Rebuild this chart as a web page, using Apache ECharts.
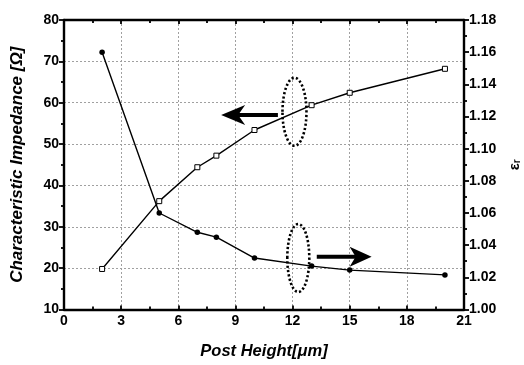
<!DOCTYPE html>
<html><head><meta charset="utf-8">
<script src="https://cdn.jsdelivr.net/npm/echarts@6/dist/echarts.min.js"></script>
<style>html,body{margin:0;padding:0;background:#fff}#c{width:524px;height:365px}</style>
</head><body><div id="c"></div>
<script>
// Data
const postHeight = [2, 5, 7, 8, 10, 13, 15, 20];
const impedance = [19.8, 36.2, 44.4, 47.2, 53.4, 59.4, 62.4, 68.2];
const epsEff = [1.160, 1.060, 1.048, 1.045, 1.032, 1.027, 1.0245, 1.0215];
const xRange = [0, 21, 3];
const leftRange = [10, 80, 10];
const rightRange = [1.00, 1.18, 0.02];

const FONT = 'Liberation Sans';
const labelStyle = { color: '#000', fontFamily: FONT, fontWeight: 'bold', fontSize: 14 };
const nameStyleX = { color: '#000', fontFamily: FONT, fontWeight: 'bold', fontStyle: 'italic', fontSize: 16.5 };
const nameStyleY = { color: '#000', fontFamily: FONT, fontWeight: 'bold', fontStyle: 'italic', fontSize: 17 };
const axisLine = { show: true, onZero: false, lineStyle: { color: '#000', width: 2.4 } };
const gridLine = { show: true, lineStyle: { color: '#a0a0a0', width: 1, type: [2, 2] } };
const tick = { color: '#000', width: 1.8 };

const impData = postHeight.map((x, i) => [x, impedance[i]]);
const epsData = postHeight.map((x, i) => [x, epsEff[i]]);

const chart = echarts.init(document.getElementById('c'), null, { renderer: 'canvas' });
chart.setOption({
  animation: false,
  backgroundColor: '#fff',
  grid: { left: 64, right: 60, top: 20, bottom: 55.5, containLabel: false, outerBoundsMode: 'none' },
  xAxis: [{
    type: 'value', min: xRange[0], max: xRange[1], interval: xRange[2],
    name: 'Post Height[\u03bcm]', nameLocation: 'middle', nameGap: 33, nameTextStyle: nameStyleX,
    axisLine: axisLine,
    axisTick: { show: true, inside: true, length: 4, lineStyle: tick },
    minorTick: { show: true, splitNumber: 2, length: 3, lineStyle: tick },
    axisLabel: Object.assign({ margin: 5 }, labelStyle),
    splitLine: gridLine
  }, {
    type: 'value', position: 'top', min: xRange[0], max: xRange[1], interval: xRange[2],
    axisLine: axisLine,
    axisTick: { show: true, inside: true, length: 4, lineStyle: tick },
    minorTick: { show: true, splitNumber: 2, length: 3, lineStyle: tick },
    axisLabel: { show: false }, splitLine: { show: false }
  }],
  yAxis: [{
    type: 'value', min: leftRange[0], max: leftRange[1], interval: leftRange[2],
    name: 'Characteristic Impedance [\u03a9]', nameLocation: 'middle', nameGap: 38, nameTextStyle: nameStyleY,
    axisLine: axisLine,
    axisTick: { show: true, length: 5, lineStyle: tick },
    minorTick: { show: true, splitNumber: 2, length: 3, lineStyle: tick },
    axisLabel: Object.assign({ margin: 5 }, labelStyle),
    splitLine: gridLine
  }, {
    type: 'value', position: 'right', min: rightRange[0], max: rightRange[1], interval: rightRange[2],
    name: '{e|\u03b5}{s|r}', nameLocation: 'middle', nameGap: 34, nameRotate: 90,
    nameTextStyle: { color: '#000', fontFamily: FONT, fontWeight: 'bold',
      rich: { e: { fontSize: 15, fontWeight: 'bold', fontFamily: FONT }, s: { fontSize: 10, fontWeight: 'bold', fontFamily: FONT, padding: [6, 0, 0, 0] } } },
    axisLine: axisLine,
    axisTick: { show: true, length: 5, lineStyle: tick },
    minorTick: { show: true, splitNumber: 2, length: 3, lineStyle: tick },
    axisLabel: Object.assign({ margin: 5, formatter: v => v.toFixed(2) }, labelStyle),
    splitLine: { show: false }
  }],
  series: [{
    name: 'Impedance', type: 'line', xAxisIndex: 0, yAxisIndex: 0, data: impData,
    symbol: 'rect', symbolSize: 5,
    itemStyle: { color: '#fff', borderColor: '#000', borderWidth: 1 },
    lineStyle: { color: '#000', width: 1.4 }, z: 3
  }, {
    name: 'eps', type: 'line', xAxisIndex: 0, yAxisIndex: 1, data: epsData,
    symbol: 'circle', symbolSize: 5.5,
    itemStyle: { color: '#000', borderColor: '#000', borderWidth: 0 },
    lineStyle: { color: '#000', width: 1.4 }, z: 3
  }]
});

// Annotations (dotted ellipses and arrows), placed via data coordinates
const toPxL = (x, y) => chart.convertToPixel({ xAxisIndex: 0, yAxisIndex: 0 }, [x, y]);
const toPxR = (x, y) => chart.convertToPixel({ xAxisIndex: 0, yAxisIndex: 1 }, [x, y]);
const e1 = toPxL(12.1, 57.8);
const e2 = toPxR(12.3, 1.032);
const a1tip = toPxL(8.25, 57.0), a1tail = toPxL(11.23, 57.0);
const a2tip = toPxR(16.15, 1.0328), a2tail = toPxR(13.27, 1.0328);
const dotted = { stroke: '#000', lineWidth: 2.6, lineDash: [2.2, 2.2], fill: null };
chart.setOption({
  graphic: [
    { type: 'ellipse', shape: { cx: e1[0], cy: e1[1], rx: 12, ry: 34 }, style: dotted, z: 10 },
    { type: 'ellipse', shape: { cx: e2[0], cy: e2[1], rx: 11, ry: 34 }, style: dotted, z: 10 },
    { type: 'line', shape: { x1: a1tip[0] + 16, y1: a1tip[1], x2: a1tail[0], y2: a1tail[1] }, style: { stroke: '#000', lineWidth: 4 }, z: 10 },
    { type: 'polygon', shape: { points: [[a1tip[0], a1tip[1]], [a1tip[0] + 24, a1tip[1] - 10], [a1tip[0] + 17, a1tip[1]], [a1tip[0] + 24, a1tip[1] + 10]] }, style: { fill: '#000' }, z: 10 },
    { type: 'line', shape: { x1: a2tail[0], y1: a2tail[1], x2: a2tip[0] - 15, y2: a2tip[1] }, style: { stroke: '#000', lineWidth: 4 }, z: 10 },
    { type: 'polygon', shape: { points: [[a2tip[0], a2tip[1]], [a2tip[0] - 22, a2tip[1] - 10], [a2tip[0] - 16, a2tip[1]], [a2tip[0] - 22, a2tip[1] + 10]] }, style: { fill: '#000' }, z: 10 }
  ]
});
</script>
</body></html>
